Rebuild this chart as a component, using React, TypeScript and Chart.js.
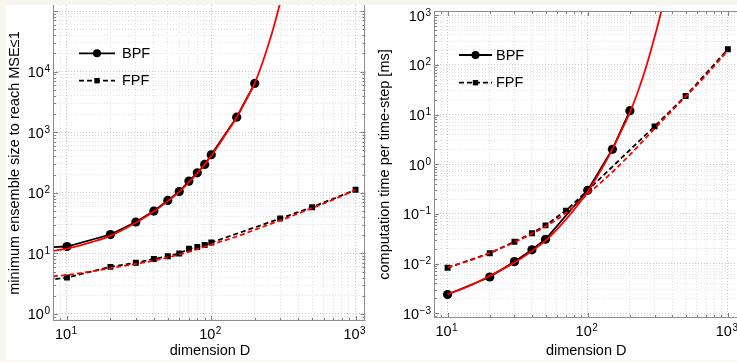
import React, { useEffect, useRef } from 'react';
import { Chart, registerables } from 'chart.js';

Chart.register(...registerables);

// ---------------- Left panel: minimum ensemble size to reach MSE<=1 ----------------
const ensBpfD = [5, 10, 20, 30, 40, 50, 60, 70, 80, 90, 100, 150, 200];
const ensBpfN = [12, 13, 20.5, 33, 50, 75, 105, 156, 214, 294, 425, 1770, 6400];
const ensFpfD = [5, 10, 20, 30, 40, 50, 60, 70, 80, 90, 100, 300, 500, 1000];
const ensFpfN = [3.2, 4.0, 6.0, 7.0, 8.1, 9.0, 10.0, 11.9, 12.8, 13.8, 15.1, 37.6, 58, 112];
const ensBpfFitD = [8, 10, 15, 20, 30, 40, 50, 60, 70, 80, 90, 100, 125, 150, 175, 200, 225, 250, 275, 300];
const ensBpfFitN = [11, 12, 15.5, 19.5, 32, 49, 73, 104, 150, 210, 295, 410, 900, 1750, 3450, 6400, 13500, 29000, 62000, 135000];
const ensFpfFitD = [8, 10, 15, 20, 30, 40, 50, 70, 100, 150, 200, 300, 500, 700, 1000];
const ensFpfFitN = [4.2, 4.4, 5.1, 5.7, 6.7, 7.6, 8.6, 10.6, 14, 19, 24.5, 35, 56, 77, 112];

// ---------------- Right panel: computation time per time-step [ms] ----------------
const timeBpfD = [10, 20, 30, 40, 50, 100, 150, 200];
const timeBpfMs = [0.0024, 0.0054, 0.011, 0.019, 0.031, 0.30, 2.0, 12];
const timeFpfD = [10, 20, 30, 40, 50, 70, 100, 300, 500, 1000];
const timeFpfMs = [0.0083, 0.0162, 0.0277, 0.041, 0.059, 0.117, 0.30, 5.8, 23.7, 206];
const timeBpfFitD = [10, 15, 20, 30, 40, 50, 70, 100, 125, 150, 175, 200, 225, 250, 275, 300, 325, 350];
const timeBpfFitMs = [0.0024, 0.0038, 0.0057, 0.0105, 0.018, 0.029, 0.078, 0.28, 0.78, 2.0, 4.9, 11, 26, 62, 150, 360, 850, 2000];
const timeFpfFitD = [10, 15, 20, 30, 40, 50, 70, 100, 150, 200, 300, 500, 700, 1000];
const timeFpfFitMs = [0.0085, 0.012, 0.0165, 0.027, 0.04, 0.056, 0.105, 0.25, 0.7, 1.55, 5.2, 23, 62, 195];

// ---------------- Axes ----------------
const dimTickExps = [1, 2, 3];
const ensTickExps = [0, 1, 2, 3, 4];
const timeTickExps = [-3, -2, -1, 0, 1, 2, 3];
const legendLabels = ['BPF', 'FPF'];
const xTitle = 'dimension D';
const ensTitle = 'minimum ensemble size to reach MSE\u22641';
const timeTitle = 'computation time per time-step [ms]';

const X_MIN = 8;
const X_MAX = 1170;

const FONT = '"Liberation Sans", Arial, Helvetica, sans-serif';
const TICK_PX = 14.5;
const SUP_PX = 10;
const RED = '#ff0000';

function logTicks(min: number, max: number) {
  const out: { value: number; major: boolean }[] = [];
  const e0 = Math.floor(Math.log10(min));
  const e1 = Math.ceil(Math.log10(max));
  for (let e = e0; e <= e1; e++) {
    for (let k = 1; k <= 9; k++) {
      const v = parseFloat((k * Math.pow(10, e)).toPrecision(6));
      if (v >= min * 0.9999 && v <= max * 1.0001) out.push({ value: v, major: k === 1 });
    }
  }
  return out;
}

function pts(xs: number[], ys: number[]) {
  return xs.map((x, i) => ({ x, y: ys[i] }));
}

function drawPow(ctx: CanvasRenderingContext2D, exp: number, x: number, y: number, align: 'right' | 'center') {
  const base = '10';
  const sup = exp < 0 ? '\u2212' + Math.abs(exp) : String(exp);
  ctx.font = `${TICK_PX}px ${FONT}`;
  const wb = ctx.measureText(base).width;
  ctx.font = `${SUP_PX}px ${FONT}`;
  const ws = ctx.measureText(sup).width;
  const total = wb + ws + 0.5;
  const x0 = align === 'right' ? x - total : x - total / 2 - 1;
  ctx.textAlign = 'left';
  ctx.textBaseline = 'alphabetic';
  ctx.font = `${TICK_PX}px ${FONT}`;
  ctx.fillText(base, x0, y + 5.5);
  ctx.font = `${SUP_PX}px ${FONT}`;
  ctx.fillText(sup, x0 + wb + 0.5, y + 0.5);
}

const matlabPlugin = {
  id: 'matlab',
  afterDraw(chart: any, _args: any, opts: any) {
    const ctx: CanvasRenderingContext2D = chart.ctx;
    const a = chart.chartArea;
    const xs = chart.scales.x;
    const ys = chart.scales.y;
    ctx.save();

    // inward tick marks
    ctx.strokeStyle = '#808080';
    ctx.lineWidth = 1;
    ctx.beginPath();
    for (const t of xs.ticks) {
      const px = Math.round(xs.getPixelForValue(t.value)) + 0.5;
      if (px < a.left || px > a.right) continue;
      const len = t.major ? 5 : 3;
      ctx.moveTo(px, a.bottom);
      ctx.lineTo(px, a.bottom - len);
      if (opts.top) {
        ctx.moveTo(px, a.top);
        ctx.lineTo(px, a.top + len);
      }
    }
    for (const t of ys.ticks) {
      const py = Math.round(ys.getPixelForValue(t.value)) + 0.5;
      if (py < a.top || py > a.bottom) continue;
      const len = t.major ? 5 : 3;
      ctx.moveTo(a.left, py);
      ctx.lineTo(a.left + len, py);
      if (opts.right) {
        ctx.moveTo(a.right, py);
        ctx.lineTo(a.right - len, py);
      }
    }
    ctx.stroke();

    // axes box
    ctx.strokeStyle = '#8c8c8c';
    ctx.beginPath();
    ctx.moveTo(Math.round(a.left) + 0.5, a.top);
    ctx.lineTo(Math.round(a.left) + 0.5, Math.round(a.bottom) - 0.5);
    ctx.lineTo(a.right, Math.round(a.bottom) - 0.5);
    if (opts.right) {
      ctx.moveTo(Math.round(a.right) - 0.5, a.top);
      ctx.lineTo(Math.round(a.right) - 0.5, a.bottom);
    }
    if (opts.top) {
      ctx.moveTo(a.left, Math.round(a.top) + 0.5);
      ctx.lineTo(a.right, Math.round(a.top) + 0.5);
    }
    ctx.stroke();

    // tick labels
    ctx.fillStyle = '#000';
    for (const e of opts.xExps as number[]) {
      const px = xs.getPixelForValue(Math.pow(10, e));
      drawPow(ctx, e, px, a.bottom + 12, 'center');
    }
    for (const e of opts.yExps as number[]) {
      const py = ys.getPixelForValue(Math.pow(10, e));
      drawPow(ctx, e, a.left - 3, py, 'right');
    }

    // axis titles
    ctx.font = `${TICK_PX}px ${FONT}`;
    ctx.textAlign = 'center';
    ctx.textBaseline = 'middle';
    ctx.fillText(opts.xTitle, (a.left + opts.xTitleRight) / 2, opts.xTitleY);
    ctx.save();
    ctx.translate(opts.yTitleX, (a.top + a.bottom) / 2);
    ctx.rotate(-Math.PI / 2);
    ctx.fillText(opts.yTitle, 0, 0);
    ctx.restore();

    // legend
    const L = opts.legend;
    L.items.forEach((it: any, i: number) => {
      const y = L.ys[i];
      ctx.strokeStyle = '#000';
      ctx.lineWidth = 1.8;
      ctx.setLineDash(it.dash);
      ctx.beginPath();
      ctx.moveTo(L.x0, y);
      ctx.lineTo(L.x1, y);
      ctx.stroke();
      ctx.setLineDash([]);
      ctx.fillStyle = '#000';
      const mx = (L.x0 + L.x1) / 2;
      if (it.marker === 'circle') {
        ctx.beginPath();
        ctx.arc(mx, y, 4, 0, Math.PI * 2);
        ctx.fill();
      } else {
        ctx.fillRect(mx - 2.7, y - 2.7, 5.4, 5.4);
      }
      ctx.fillStyle = '#000';
      ctx.font = `${TICK_PX}px ${FONT}`;
      ctx.textAlign = 'left';
      ctx.textBaseline = 'middle';
      ctx.fillText(it.label, L.tx, y + 0.5);
    });

    ctx.restore();
  },
};

interface PanelSpec {
  bpfD: number[]; bpfV: number[];
  fpfD: number[]; fpfV: number[];
  bpfFitD: number[]; bpfFitV: number[];
  fpfFitD: number[]; fpfFitV: number[];
  yMin: number; yMax: number; yExps: number[];
  yWidth: number; xHeight: number; padTop: number; padRight: number;
  yTitle: string; yTitleX: number; xTitleY: number; xTitleRight: number;
  top: boolean; right: boolean;
  legend: { x0: number; x1: number; tx: number; ys: number[] };
}

function buildConfig(p: PanelSpec): any {
  const gridColor = (c: any) => (c.tick && c.tick.major ? '#c9c9c9' : '#e0e0e0');
  return {
    type: 'line',
    data: {
      datasets: [
        {
          data: pts(p.bpfFitD, p.bpfFitV), borderColor: RED, borderWidth: 1.8, pointRadius: 0,
          cubicInterpolationMode: 'monotone', fill: false, order: 0, clip: 0,
        },
        {
          data: pts(p.fpfFitD, p.fpfFitV), borderColor: RED, borderWidth: 1.8, pointRadius: 0,
          borderDash: [5, 3], cubicInterpolationMode: 'monotone', fill: false, order: 1, clip: 0,
        },
        {
          data: pts(p.bpfD, p.bpfV), borderColor: '#000', borderWidth: 1.8, tension: 0,
          pointStyle: 'circle', pointRadius: 4.6, pointBorderWidth: 0, pointBackgroundColor: '#000',
          fill: false, order: 2, clip: 0,
        },
        {
          data: pts(p.fpfD, p.fpfV), borderColor: '#000', borderWidth: 1.8, tension: 0,
          borderDash: [5, 3], pointStyle: 'rect', pointRadius: 4.2, pointBorderWidth: 0,
          pointBackgroundColor: '#000', fill: false, order: 3, clip: 0,
        },
      ],
    },
    options: {
      animation: false,
      responsive: false,
      devicePixelRatio: 1,
      events: [],
      layout: { padding: { left: 0, top: p.padTop, right: p.padRight, bottom: 0 } },
      plugins: {
        legend: { display: false },
        tooltip: { enabled: false },
        matlab: {
          xExps: dimTickExps, yExps: p.yExps, top: p.top, right: p.right,
          xTitle, yTitle: p.yTitle, yTitleX: p.yTitleX, xTitleY: p.xTitleY, xTitleRight: p.xTitleRight,
          legend: {
            ...p.legend,
            items: [
              { label: legendLabels[0], dash: [], marker: 'circle' },
              { label: legendLabels[1], dash: [5, 3], marker: 'square' },
            ],
          },
        },
      },
      scales: {
        x: {
          type: 'logarithmic', min: X_MIN, max: X_MAX,
          afterBuildTicks: (s: any) => { s.ticks = logTicks(X_MIN, X_MAX); },
          afterFit: (s: any) => { s.height = p.xHeight; },
          ticks: { display: false, autoSkip: false },
          grid: { color: gridColor, lineWidth: 1, drawTicks: false },
          border: { display: false, dash: [1, 2] },
        },
        y: {
          type: 'logarithmic', min: p.yMin, max: p.yMax,
          afterBuildTicks: (s: any) => { s.ticks = logTicks(p.yMin, p.yMax); },
          afterFit: (s: any) => { s.width = p.yWidth; },
          ticks: { display: false, autoSkip: false },
          grid: { color: gridColor, lineWidth: 1, drawTicks: false },
          border: { display: false, dash: [1, 2] },
        },
      },
    },
    plugins: [matlabPlugin],
  };
}

const leftPanel: PanelSpec = {
  bpfD: ensBpfD, bpfV: ensBpfN, fpfD: ensFpfD, fpfV: ensFpfN,
  bpfFitD: ensBpfFitD, bpfFitV: ensBpfFitN, fpfFitD: ensFpfFitD, fpfFitV: ensFpfFitN,
  yMin: 0.766, yMax: 1.26e5, yExps: ensTickExps,
  yWidth: 53, xHeight: 41, padTop: 5, padRight: 3,
  yTitle: ensTitle, yTitleX: 15, xTitleY: 351, xTitleRight: 367,
  top: false, right: true,
  legend: { x0: 79, x1: 115, tx: 122, ys: [53.3, 80.7] },
};

const rightPanel: PanelSpec = {
  bpfD: timeBpfD, bpfV: timeBpfMs, fpfD: timeFpfD, fpfV: timeFpfMs,
  bpfFitD: timeBpfFitD, bpfFitV: timeBpfFitMs, fpfFitD: timeFpfFitD, fpfFitV: timeFpfFitMs,
  yMin: 8.07e-4, yMax: 1216, yExps: timeTickExps,
  yWidth: 62, xHeight: 44, padTop: 11, padRight: 3.6,
  yTitle: timeTitle, yTitleX: 13, xTitleY: 351, xTitleRight: 366.4,
  top: true, right: false,
  legend: { x0: 87, x1: 120, tx: 124, ys: [55, 82.7] },
};

export default function App() {
  const leftRef = useRef<HTMLCanvasElement>(null);
  const rightRef = useRef<HTMLCanvasElement>(null);

  useEffect(() => {
    const c1 = new Chart(leftRef.current as HTMLCanvasElement, buildConfig(leftPanel));
    const c2 = new Chart(rightRef.current as HTMLCanvasElement, buildConfig(rightPanel));
    return () => {
      c1.destroy();
      c2.destroy();
    };
  }, []);

  return (
    <div
      style={{
        position: 'fixed', left: 0, top: 0, width: 737, height: 362,
        overflow: 'hidden', background: '#f8f7ef',
      }}
    >
      <div style={{ position: 'absolute', left: 6, top: 5, width: 731, height: 355, background: '#ffffff' }} />
      <canvas ref={leftRef} width={370} height={362} style={{ position: 'absolute', left: 0, top: 0 }} />
      <canvas ref={rightRef} width={370} height={362} style={{ position: 'absolute', left: 372, top: 0 }} />
    </div>
  );
}
